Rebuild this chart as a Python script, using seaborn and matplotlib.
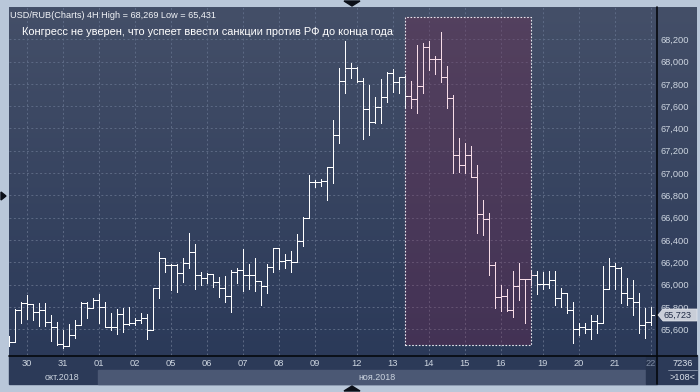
import numpy as np
import pandas as pd
import matplotlib
matplotlib.use("Agg")
import matplotlib.pyplot as plt
import seaborn as sns
from matplotlib.colors import LinearSegmentedColormap
from matplotlib.patches import Rectangle, Polygon
from matplotlib.lines import Line2D

# USD/RUB 4H bars, 30 Oct - 22 Nov 2018
opens = [65503, 65482, 65772, 65838, 65823, 65757, 65772, 65667, 65617, 65465,
         65449, 65548, 65638, 65838, 65787, 65862, 65796, 65622, 65617, 65734,
         65644, 65653, 65682, 65703, 65593, 65967, 66236, 66176, 66176, 66101,
         66196, 66290, 66086, 66059, 66092, 66026, 65969, 65900, 66113, 66131,
         66086, 66086, 66032, 65987, 66155, 66331, 66212, 66221, 66205, 66394,
         66595, 66920, 66918, 66932, 67057, 67342, 67829, 67945, 67945, 67826,
         67572, 67456, 67596, 67680, 67900, 67820, 67865, 67694, 67662, 67781,
         68128, 68021, 68021, 67865, 67671, 67162, 67073, 67162, 66962, 66633,
         66586, 66176, 65891, 65898, 65772, 65983, 66047, 66047, 66086, 66003,
         66003, 66041, 65877, 65922, 65772, 65599, 65617, 65599, 65676, 65653,
         65958, 66167, 66146, 65922, 65877, 65847, 65638, 65667]
highs = [65539, 65778, 65847, 65907, 65825, 65832, 65832, 65727, 65662, 65593,
         65644, 65682, 65847, 65847, 65877, 65916, 65847, 65743, 65778, 65787,
         65796, 65698, 65748, 65734, 65967, 66290, 66236, 66182, 66182, 66236,
         66460, 66361, 66116, 66101, 66095, 66071, 66077, 66131, 66146, 66316,
         66185, 66236, 66032, 66185, 66331, 66331, 66274, 66304, 66454, 66604,
         66983, 66938, 66947, 67057, 67476, 67940, 68188, 67985, 67954, 67850,
         67790, 67685, 67841, 67909, 67931, 67865, 67871, 67826, 68149, 68170,
         68185, 68050, 68269, 67961, 67700, 67312, 67267, 67243, 67073, 66759,
         66645, 66200, 65996, 65960, 66122, 66198, 66047, 66125, 66125, 66116,
         66122, 66122, 65967, 65927, 65847, 65658, 65658, 65727, 65727, 66169,
         66236, 66196, 66160, 66056, 66041, 65922, 65788, 65802]
lows = [65449, 65482, 65653, 65689, 65682, 65629, 65629, 65497, 65458, 65431,
        65445, 65518, 65638, 65698, 65787, 65658, 65622, 65593, 65557, 65578,
        65640, 65638, 65653, 65509, 65593, 65877, 66116, 65952, 65936, 66026,
        66149, 65958, 65996, 66011, 65981, 65891, 65847, 65751, 66011, 65945,
        65958, 65945, 65817, 65927, 66116, 66137, 66146, 66116, 66205, 66346,
        66595, 66878, 66887, 66759, 66909, 67267, 67721, 67856, 67820, 67303,
        67342, 67450, 67447, 67640, 67730, 67721, 67581, 67587, 67536, 67716,
        67925, 67886, 67820, 67587, 66998, 67013, 67004, 66962, 66460, 66445,
        66086, 65793, 65763, 65766, 65705, 65862, 65653, 65996, 65913, 65958,
        65967, 65817, 65796, 65748, 65479, 65548, 65569, 65509, 65569, 65653,
        65958, 65958, 65832, 65817, 65727, 65569, 65518, 65638]
closes = [65482, 65772, 65838, 65823, 65757, 65772, 65667, 65617, 65465, 65449,
          65548, 65638, 65838, 65787, 65862, 65796, 65622, 65617, 65734, 65644,
          65653, 65682, 65703, 65593, 65967, 66236, 66176, 66176, 66101, 66196,
          66290, 66086, 66059, 66092, 66026, 65969, 65900, 66113, 66131, 66086,
          66086, 66032, 65987, 66155, 66331, 66212, 66221, 66205, 66394, 66595,
          66920, 66918, 66932, 67057, 67342, 67829, 67945, 67945, 67826, 67572,
          67456, 67596, 67680, 67900, 67820, 67865, 67694, 67662, 67781, 68128,
          68021, 68021, 67865, 67671, 67162, 67073, 67162, 66962, 66633, 66586,
          66176, 65891, 65898, 65772, 65983, 66047, 66047, 66086, 66003, 66003,
          66041, 65877, 65922, 65772, 65599, 65617, 65599, 65676, 65653, 65958,
          66167, 66146, 65922, 65877, 65847, 65638, 65667, 65723]

day_labels = ["30", "31", "01", "02", "05", "06", "07", "08", "09",
              "12", "13", "14", "15", "16", "19", "20", "21", "22"]
day_bars = [3, 9, 15, 21, 27, 33, 39, 45, 51, 58, 64, 70, 76, 82, 89, 95, 101, 107]
price_ticks = list(range(65600, 68201, 200))
title = "USD/RUB(Charts) 4H High = 68,269 Low = 65,431"
headline = "Конгресс не уверен, что успеет ввести санкции против РФ до конца года"
last_price = "65,723"

W, H = 700, 392
def fx(x):
    return x / W
def fy(y):
    return 1 - y / H

sns.set_theme(style="dark", rc={"axes.facecolor": "none"})
plt.rcParams["font.family"] = ["Liberation Sans", "DejaVu Sans"]

fig = plt.figure(figsize=(7, 3.92), dpi=100, facecolor="#b9c7d9")

# фон графика и шкалы цен
bg = fig.add_axes([fx(9), fy(384), fx(697) - fx(9), fy(7) - fy(384)], zorder=0)
grad = np.linspace(0, 1, 256).reshape(-1, 1)
cmap = LinearSegmentedColormap.from_list("bg", ["#293858", "#444f68"])
bg.imshow(grad, aspect="auto", cmap=cmap, origin="lower", extent=[0, 1, 0, 1])
bg.axis("off")

# полоса дат
fig.add_artist(Rectangle((fx(9), fy(384)), fx(697) - fx(9), fy(355) - fy(384),
                         transform=fig.transFigure, color="#2c3a58", zorder=1))
fig.add_artist(Rectangle((fx(98), fy(384)), fx(646) - fx(98), fy(370) - fy(384),
                         transform=fig.transFigure, color="#4b5874", zorder=1))
fig.add_artist(Rectangle((fx(646), fy(384)), fx(657) - fx(646), fy(356) - fy(384),
                         transform=fig.transFigure, color="#27344f", zorder=1))

ax = fig.add_axes([fx(9), fy(355), fx(657) - fx(9), fy(7) - fy(355)], zorder=2)
ax.set_facecolor("none")
ax.set_xlim(0.05, 108.05)
ax.set_ylim(65368.5, 68489.7)

df = pd.DataFrame({"open": opens, "high": highs, "low": lows, "close": closes})
df["bar"] = np.arange(len(df))
in_box = (df["bar"] >= 67) & (df["bar"] <= 87)

# выделенный период
ax.add_patch(Rectangle((66.13, 65458), 21.0, 68400 - 65458, facecolor="#76244c",
                       alpha=0.32, edgecolor="none", zorder=1))
ax.add_patch(Rectangle((66.13, 65458), 21.0, 68400 - 65458, facecolor="none",
                       edgecolor="#e8e8ee", lw=0.8, linestyle=(0, (1.5, 1.5)), zorder=4))

for mask, col in [(~in_box, "#ffffff"), (in_box, "#f7dce7")]:
    d = df[mask]
    kw = dict(colors=col, lw=0.72, antialiased=False, zorder=3)
    ax.vlines(d["bar"], d["low"], d["high"], **kw)
    ax.hlines(d["open"], d["bar"] - 0.5, d["bar"], **kw)
    ax.hlines(d["close"], d["bar"], d["bar"] + 0.5, **kw)

ax.set_yticks(price_ticks)
ax.set_yticklabels([f"{v:,}" for v in price_ticks])
ax.yaxis.tick_right()
ax.set_xticks(day_bars)
ax.set_xticklabels(day_labels)
ax.tick_params(axis="y", length=0, pad=2.5, labelsize=6.7, labelcolor="#cdd5e0")
ax.tick_params(axis="x", length=0, pad=3, labelsize=6.7, labelcolor="#cdd5e0")
ax.get_xticklabels()[-1].set_color("#7d8aa2")
ax.grid(True, color="#5d6a85", lw=0.7, linestyle=(0, (2, 2.5)))
sns.despine(ax=ax, left=True, bottom=True, right=True, top=True)

# разделители
fig.add_artist(Line2D([fx(9), fx(697)], [fy(355.5), fy(355.5)], color="#05080e", lw=1.2, zorder=5))
fig.add_artist(Line2D([fx(657), fx(657)], [fy(7), fy(384)], color="#05080e", lw=1.2, zorder=5))

# тексты
fig.text(fx(10), fy(15), title, fontsize=6.6, color="#f2f4f8", va="center", ha="left", zorder=6)
fig.text(fx(22), fy(32), headline, fontsize=7.95, color="#ffffff", va="center", ha="left", zorder=6)
fig.text(fx(62), fy(378), "окт.2018", fontsize=6.4, color="#cdd5e0", va="center", ha="center", zorder=6)
fig.text(fx(377), fy(378), "ноя.2018", fontsize=6.4, color="#cdd5e0", va="center", ha="center", zorder=6)
fig.text(fx(683), fy(363), "7236", fontsize=6.6, color="#dde3ec", va="center", ha="center", zorder=6)
fig.add_artist(Line2D([fx(668), fx(697)], [fy(370), fy(370)], color="#8c98ad", lw=0.6, zorder=6))
fig.text(fx(683), fy(378), ">108<", fontsize=6.6, color="#dde3ec", va="center", ha="center", zorder=6)

# метка последней цены
tag = Polygon([[fx(658), fy(315)], [fx(663), fy(309)], [fx(697), fy(309)],
               [fx(697), fy(321)], [fx(663), fy(321)]], closed=True,
              transform=fig.transFigure, facecolor="#c9ced8", edgecolor="#e6e9ef", lw=0.5, zorder=6)
fig.add_artist(tag)
fig.text(fx(678), fy(315), last_price, fontsize=6.6, color="#1f2b45", va="center", ha="center", zorder=7)

# маркеры рамки
for pts in ([[344, 1], [360, 1], [352, 6]], [[344, 391], [360, 391], [352, 386]], [[1, 192], [1, 200], [6, 196]]):
    fig.add_artist(Polygon([[fx(x), fy(y)] for x, y in pts], closed=True,
                           transform=fig.transFigure, color="#0b0f18", zorder=6))

fig.savefig("out.png", dpi=100, facecolor=fig.get_facecolor())
